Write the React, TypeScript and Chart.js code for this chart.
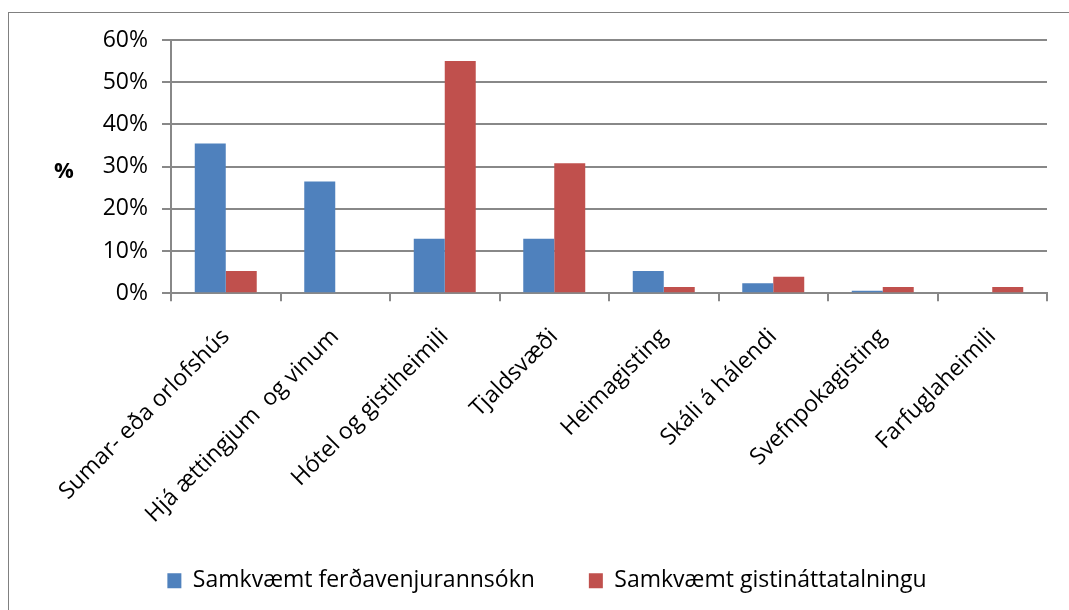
import React, { useEffect, useRef } from "react";
import { Chart, registerables } from "chart.js";

Chart.register(...registerables);

const categories = [
  "Sumar- eða orlofshús",
  "Hjá ættingjum  og vinum",
  "Hótel og gistiheimili",
  "Tjaldsvæði",
  "Heimagisting",
  "Skáli á hálendi",
  "Svefnpokagisting",
  "Farfuglaheimili",
];
const surveyValues = [35.5, 26.5, 12.9, 12.9, 5.3, 2.4, 0.6, 0];
const countValues = [5.3, 0, 55.0, 30.8, 1.5, 3.9, 1.5, 1.5];
const seriesNames = ["Samkvæmt ferðavenjurannsókn", "Samkvæmt gistináttatalningu"];
const yMin = 0;
const yMax = 60;
const yStep = 10;
const yAxisTitle = "%";

const FONT = '"Open Sans", sans-serif';
const FS = 23;
const GRID = "#888888";
const LEGEND_PAD = 54;
const LEGEND_H = 27 + LEGEND_PAD + 13.8;

const legendFitPlugin = {
  id: "legendFit",
  beforeLayout(chart: any) {
    const lg = chart.legend;
    if (lg && !lg._patched) {
      const orig = lg.fit.bind(lg);
      lg.fit = function () {
        orig();
        this.height = LEGEND_H;
      };
      lg._patched = true;
    }
  },
};

const yTitlePlugin = {
  id: "yTitle",
  afterDraw(chart: any) {
    const ctx = chart.ctx;
    ctx.save();
    ctx.font = `bold 22px ${FONT}`;
    ctx.fillStyle = "#000";
    ctx.textAlign = "center";
    ctx.textBaseline = "middle";
    ctx.fillText(yAxisTitle, 64, 172);
    ctx.restore();
  },
};

export default function App() {
  const ref = useRef<HTMLCanvasElement | null>(null);

  useEffect(() => {
    if (!ref.current) return;
    const LEFT_PAD = 47;
    const chart = new Chart(ref.current, {
      type: "bar",
      data: {
        labels: categories,
        datasets: [
          {
            label: seriesNames[0],
            data: surveyValues,
            backgroundColor: "#4F81BD",
            borderWidth: 0,
          },
          {
            label: seriesNames[1],
            data: countValues,
            backgroundColor: "#C0504D",
            borderWidth: 0,
          },
        ],
      },
      options: {
        animation: false,
        responsive: false,
        maintainAspectRatio: false,
        datasets: {
          bar: { categoryPercentage: 0.566, barPercentage: 1 },
        },
        layout: { padding: { left: LEFT_PAD, right: 22, top: 40, bottom: 0 } },
        plugins: {
          tooltip: { enabled: false },
          title: { display: false },
          legend: {
            position: "bottom",
            labels: {
              boxWidth: 14,
              boxHeight: 15,
              padding: LEGEND_PAD,
              color: "#000",
              font: { family: FONT, size: FS },
            },
          },
        },
        scales: {
          x: {
            grid: {
              drawOnChartArea: false,
              drawTicks: true,
              tickLength: 8,
              color: GRID,
              lineWidth: 2,
              offset: true,
            },
            border: { color: GRID, width: 2 },
            ticks: {
              minRotation: 45,
              maxRotation: 45,
              autoSkip: false,
              padding: 22,
              color: "#000",
              font: { family: FONT, size: FS },
            },
            afterFit: (s: any) => {
              s.height = 610 - 293.3 - LEGEND_H;
              s._computeLabelArea = () => undefined;
            },
          },
          y: {
            min: yMin,
            max: yMax,
            ticks: {
              stepSize: yStep,
              padding: 14,
              color: "#000",
              font: { family: FONT, size: FS },
              callback: (v: any) => `${v}%`,
            },
            grid: { color: GRID, lineWidth: 2, tickLength: 9 },
            border: { color: GRID, width: 2 },
            afterFit: (s: any) => {
              s.width = 171 - LEFT_PAD;
            },
          },
        },
      },
      plugins: [legendFitPlugin, yTitlePlugin],
    });
    return () => chart.destroy();
  }, []);

  return (
    <div
      style={{
        position: "fixed",
        left: 0,
        top: 0,
        width: 1069,
        height: 610,
        overflow: "hidden",
        background: "#fff",
      }}
    >
      <div
        style={{
          position: "absolute",
          left: 8,
          top: 12,
          width: 2000,
          height: 2000,
          borderLeft: "1px solid #808080",
          borderTop: "1px solid #808080",
        }}
      />
      <canvas
        ref={ref}
        width={1069}
        height={610}
        style={{ position: "absolute", left: 0, top: 0, width: 1069, height: 610 }}
      />
    </div>
  );
}
